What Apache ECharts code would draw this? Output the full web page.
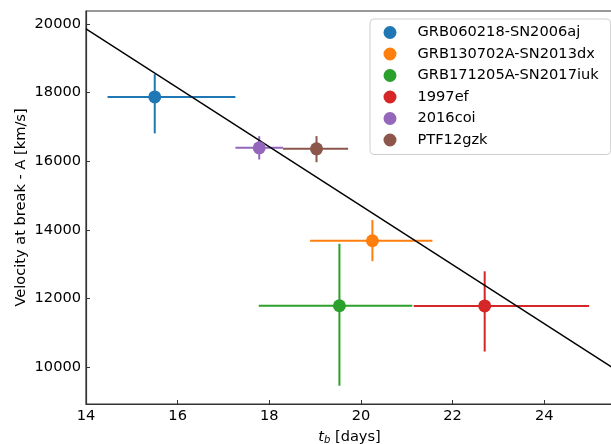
<!DOCTYPE html>
<html>
<head>
<meta charset="utf-8">
<script src="https://cdn.jsdelivr.net/npm/echarts@6/dist/echarts.min.js"></script>
<style>
  html, body { margin: 0; padding: 0; background: #fff; }
  #chart { width: 611px; height: 444px; }
</style>
</head>
<body>
<div id="chart"></div>
<script>
// Break time vs. velocity at break for GRB-SNe and SNe Ic-BL
const names = ['GRB060218-SN2006aj', 'GRB130702A-SN2013dx', 'GRB171205A-SN2017iuk', '1997ef', '2016coi', 'PTF12gzk'];
const colors = ['#1f77b4', '#ff7f0e', '#2ca02c', '#d62728', '#9467bd', '#8c564b'];
const tb     = [15.50, 20.25, 19.53, 22.70, 17.78, 19.03];
const tbLow  = [14.47, 18.89, 17.77, 21.15, 17.26, 18.30];
const tbHigh = [17.26, 21.56, 21.12, 24.98, 18.30, 19.72];
const vel     = [17875, 13680, 11785, 11780, 16390, 16360];
const velLow  = [16813, 13085,  9453, 10450, 16050, 15971];
const velHigh = [18538, 14284, 13591, 12789, 16731, 16731];
// linear fit
const fitX = [14, 25.5];
const fitV = [19860, 9970];

const FONT = 'DejaVu Sans';
const FS = 14.6;
const chart = echarts.init(document.getElementById('chart'), null, { renderer: 'canvas' });

const errData = names.map((n, i) => [tb[i], vel[i], tbLow[i], tbHigh[i], velLow[i], velHigh[i], i]);

const series = [{
  type: 'custom',
  name: 'errorbars',
  z: 2,
  data: errData,
  encode: { x: [0, 2, 3], y: [1, 4, 5] },
  renderItem: function (params, api) {
    const x = api.value(0), y = api.value(1);
    const c = colors[api.value(6)];
    const pl = api.coord([api.value(2), y]);
    const pr = api.coord([api.value(3), y]);
    const pt = api.coord([x, api.value(5)]);
    const pb = api.coord([x, api.value(4)]);
    const st = { stroke: c, lineWidth: 2 };
    return {
      type: 'group',
      children: [
        { type: 'line', shape: { x1: pt[0], y1: pt[1], x2: pb[0], y2: pb[1] }, style: st },
        { type: 'line', shape: { x1: pl[0], y1: pl[1], x2: pr[0], y2: pr[1] }, style: st }
      ]
    };
  }
}, {
  type: 'line',
  name: 'fit',
  z: 3,
  data: fitX.map((x, i) => [x, fitV[i]]),
  symbol: 'none',
  lineStyle: { color: '#000', width: 1.4 },
  silent: true
}];

names.forEach((n, i) => {
  series.push({
    type: 'scatter',
    name: n,
    z: 4,
    data: [[tb[i], vel[i]]],
    symbol: 'circle',
    symbolSize: 13,
    itemStyle: { color: colors[i], opacity: 1 }
  });
});

const tickStyle = { color: '#333', width: 1 };
// legend marker: a dot on the left of a 29x13 icon box
const legendDot = 'path://M0 6.5A6.5 6.5 0 1 1 13 6.5A6.5 6.5 0 1 1 0 6.5ZM29 6L29 7Z';

chart.setOption({
  animation: false,
  backgroundColor: '#fff',
  grid: {
    left: 86, top: 11, right: -2, bottom: 40,
    outerBoundsMode: 'none',
    show: true, borderColor: '#333', borderWidth: 1.2, backgroundColor: 'transparent'
  },
  xAxis: {
    type: 'value',
    min: 14, max: 25.5,
    splitNumber: 5,
    name: '{i|t}{s|b} [days]',
    nameLocation: 'middle',
    nameGap: 25,
    nameMoveOverlap: false,
    nameTextStyle: {
      fontFamily: FONT, fontSize: FS, color: '#000',
      rich: {
        i: { fontFamily: FONT, fontSize: FS, fontStyle: 'italic', color: '#000' },
        s: { fontFamily: FONT, fontSize: 10, fontStyle: 'italic', color: '#000', verticalAlign: 'bottom', padding: [6, 0, 0, 0] }
      }
    },
    axisLine: { onZero: false, lineStyle: { color: '#333', width: 1.2 } },
    axisTick: { show: true, inside: true, length: 4, lineStyle: tickStyle },
    axisLabel: {
      margin: 4.5, fontFamily: FONT, fontSize: FS, color: '#000',
      showMinLabel: true, showMaxLabel: false,
      formatter: v => String(v)
    },
    splitLine: { show: false }
  },
  yAxis: {
    type: 'value',
    min: 8920, max: 20380,
    splitNumber: 5,
    name: 'Velocity at break - A [km/s]',
    nameLocation: 'middle',
    nameGap: 57,
    nameMoveOverlap: false,
    nameTextStyle: { fontFamily: FONT, fontSize: FS, color: '#000' },
    axisLine: { show: true, onZero: false, lineStyle: { color: '#333', width: 1.2 } },
    axisTick: { show: true, inside: true, length: 4, lineStyle: tickStyle },
    axisLabel: {
      margin: 5, fontFamily: FONT, fontSize: FS, color: '#000',
      showMinLabel: false, showMaxLabel: false,
      formatter: v => String(v)
    },
    splitLine: { show: false }
  },
  legend: {
    data: names.map(n => ({ name: n, icon: legendDot })),
    orient: 'vertical',
    left: 370, top: 19,
    padding: [6, 12, 7, 13.5],
    itemWidth: 29, itemHeight: 13,
    itemGap: 6.5,
    backgroundColor: '#fff',
    borderColor: '#cfcfcf',
    borderWidth: 1,
    borderRadius: 4,
    textStyle: { fontFamily: FONT, fontSize: FS, color: '#000', lineHeight: 15 }
  },
  series: series
});
</script>
</body>
</html>
